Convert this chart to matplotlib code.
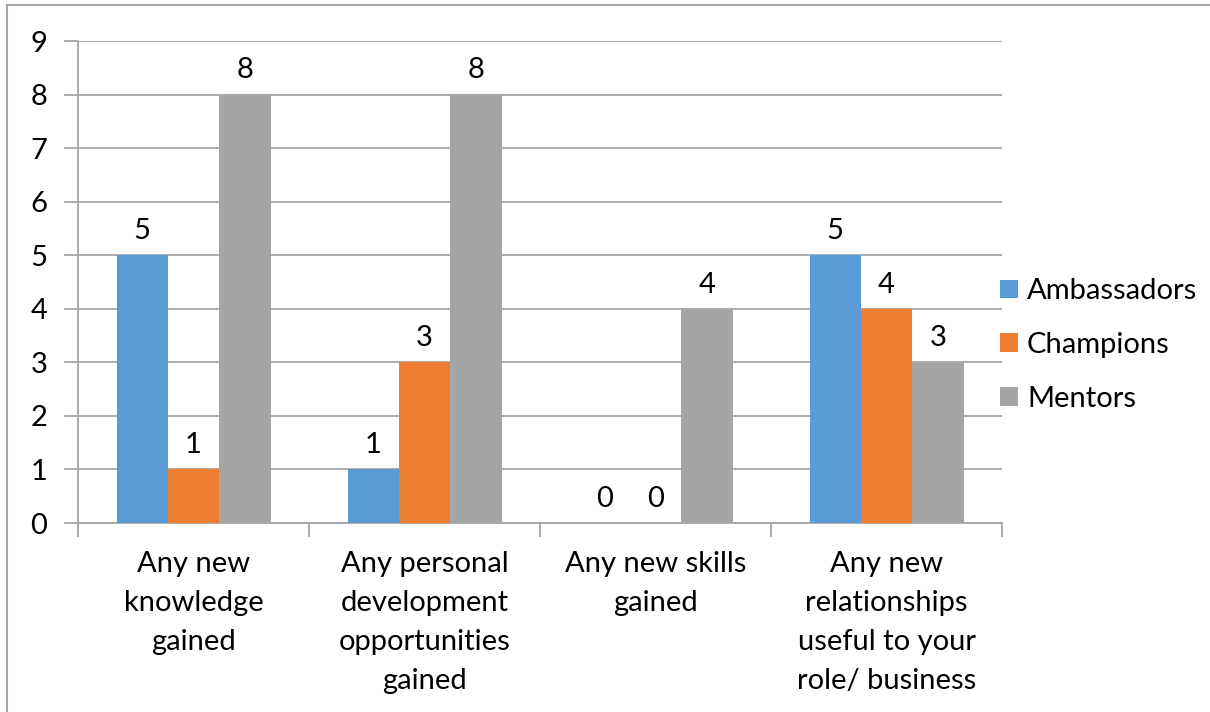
import matplotlib
matplotlib.use('Agg')
import matplotlib.pyplot as plt
from matplotlib.lines import Line2D
import numpy as np

plt.rcParams['font.family'] = ['Lato', 'DejaVu Sans']

categories = ['Any new\nknowledge\ngained',
              'Any personal\ndevelopment\nopportunities\ngained',
              'Any new skills\ngained',
              'Any new\nrelationships\nuseful to your\nrole/ business']
series = ['Ambassadors', 'Champions', 'Mentors']
ambassadors = [5, 1, 0, 5]
champions = [1, 3, 0, 4]
mentors = [8, 8, 4, 3]
colors = ['#5B9BD5', '#ED7D31', '#A5A5A5']

grid_color = '#a6a6a6'
fs = 21

fig = plt.figure(figsize=(12.1, 7.12), dpi=100)
ax = fig.add_axes([78 / 1210, 1 - 523 / 712, 924 / 1210, 482 / 712])

x = np.arange(len(categories))
w = 1 / 4.5
for i, (name, vals) in enumerate(zip(series, [ambassadors, champions, mentors])):
    pos = x + (i - 1) * w
    ax.bar(pos, vals, width=w, color=colors[i], label=name, zorder=3)
    for px, v in zip(pos, vals):
        ax.annotate(str(v), (px, v), xytext=(0, 8), textcoords='offset points',
                    ha='center', va='bottom', fontsize=fs, color='black')

ax.set_xlim(-0.5, len(categories) - 0.5)
ax.set_ylim(0, 9)
ax.set_yticks(range(10))
ax.yaxis.grid(True, color=grid_color, linewidth=1.3, zorder=0)
ax.tick_params(axis='y', length=10, width=1.3, color=grid_color, labelsize=fs, pad=12)

# category labels centred, tick marks on the group boundaries
ax.set_xticks(np.arange(-0.5, len(categories), 1.0))
ax.set_xticklabels([])
ax.set_xticks(x, minor=True)
ax.set_xticklabels(categories, minor=True, fontsize=fs, linespacing=1.63, va='top')
ax.tick_params(axis='x', which='major', length=10, width=1.3, color=grid_color)
ax.tick_params(axis='x', which='minor', length=0, pad=20)

for s in ['top', 'right']:
    ax.spines[s].set_visible(False)
for s in ['left', 'bottom']:
    ax.spines[s].set_color(grid_color)
    ax.spines[s].set_linewidth(1.3)

ax.legend(loc='center left', bbox_to_anchor=(0.998, 1 - (345 - 41) / 482), frameon=False,
          fontsize=fs, handlelength=0.62, handleheight=0.62, handletextpad=0.3,
          labelspacing=0.95, borderaxespad=0, borderpad=0)

# outer chart border (left and top only)
fig.add_artist(Line2D([7 / 1210, 7 / 1210], [0, 1 - 5 / 712], transform=fig.transFigure,
                      color=grid_color, linewidth=1.5))
fig.add_artist(Line2D([7 / 1210, 1], [1 - 5 / 712, 1 - 5 / 712], transform=fig.transFigure,
                      color=grid_color, linewidth=1.5))

plt.savefig('out.png', dpi=100)
